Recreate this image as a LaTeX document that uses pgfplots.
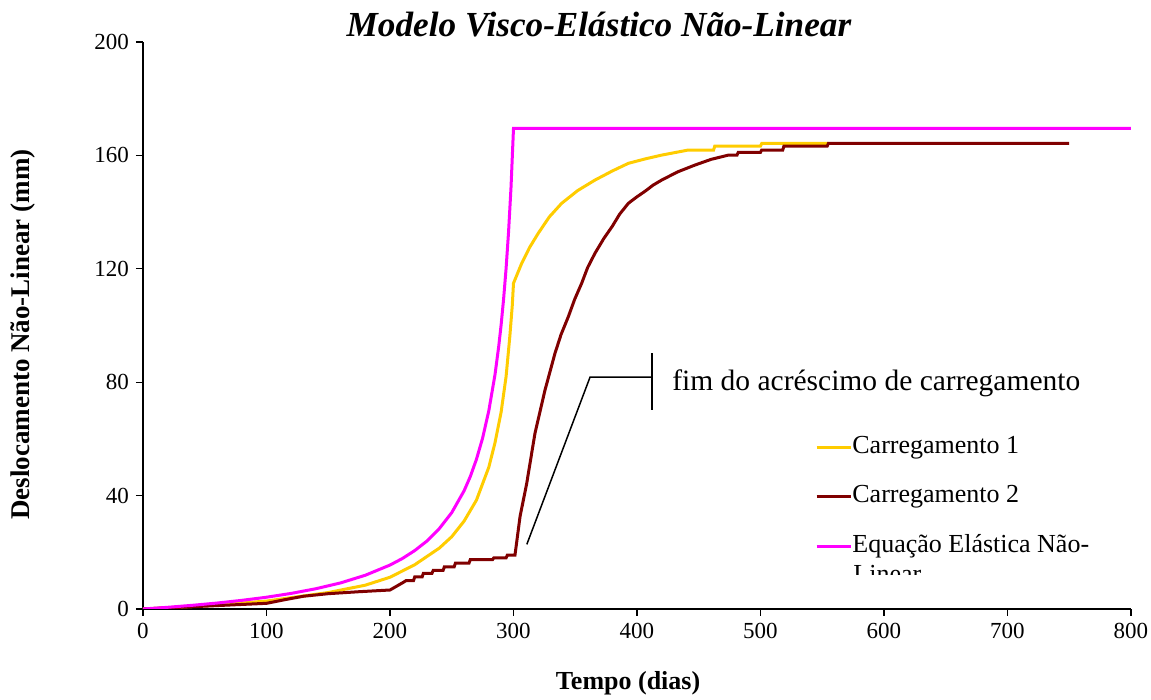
\documentclass[border=0pt]{standalone}
\usepackage{fontspec}
\setmainfont{Liberation Serif}
\usepackage{pgfplots}
\pgfplotsset{compat=1.18}
\definecolor{amarelo}{HTML}{FFCC00}
\definecolor{vinho}{HTML}{800000}
\definecolor{rosa}{HTML}{FF00FF}

\begin{document}
\begin{tikzpicture}
\path[use as bounding box] (-71.5pt,-45.5pt) rectangle (504pt,304.5pt);
\begin{axis}[
  at={(0,0)}, anchor=south west,
  width=494pt, height=283.5pt, scale only axis,
  xmin=0, xmax=800, ymin=0, ymax=200,
  xtick={0,100,...,800}, ytick={0,40,...,200},
  axis lines*=left,
  axis line style={black, line width=0.6pt, -},
  tick align=outside, major tick length=3.5pt,
  tick style={black, line width=0.6pt},
  /pgf/number format/assume math mode=true,
  tick label style={font=\fontsize{11.5}{13}\selectfont},
  every axis title shift=0pt,
  title={\bfseries\itshape Modelo Visco-Elástico Não-Linear},
  title style={at={(axis description cs:0.4615,1.0088)}, anchor=base,
    font=\fontsize{17.6}{20}\selectfont, inner sep=0pt},
  xlabel={\bfseries Tempo (dias)},
  xlabel style={at={(axis description cs:0.491,0)}, anchor=base,
    yshift=-40.5pt, font=\fontsize{13}{15}\selectfont, inner sep=0pt},
  ylabel={\bfseries Deslocamento Não-Linear (mm)},
  ylabel style={at={(axis description cs:-0.1215,0.484)}, anchor=center,
    font=\fontsize{13.5}{15}\selectfont, inner sep=0pt},
  legend cell align=left,
  legend style={draw=none, fill=none, at={(axis description cs:0.680,0.3069)},
    anchor=north west, inner sep=0pt, row sep=12.75pt,
    font=\fontsize{13}{15.6}\selectfont,
    nodes={inner sep=0pt, text height=9pt, text depth=3pt}},
  legend image post style={line width=1.5pt},
]
% Carregamento 1
\addplot[amarelo, line width=1.5pt] coordinates {
(0,0) (50,1.1) (100,2.8) (150,5.8) (180,8.4) (200,11.2) (220,15.6)
(240,21.5) (250,25.5) (260,31.0) (270,38.4) (280,50.0) (285,58.6)
(290,69.5) (294,82.0) (297,96.0) (299,107.0) (300,114.9) (306.6,121.9)
(313,127.5) (320,132.5) (329,138.3) (339,143.1) (352,147.6) (366,151.3)
(380,154.5) (393,157.2) (407,158.8) (420,160.1)
(441.6,161.9) (462,161.9) (463,163.3) (500,163.3) (501,164.2) (555,164.2)
};
% Carregamento 2
\addplot[vinho, line width=1.5pt] coordinates {
(0,0) (100,2.0) (115,3.3) (130,4.5) (150,5.4) (175,6.1) (200,6.7)
(210,9.2) (213,10.0) (219,10.0) (220,11.3) (226,11.3) (227,12.6)
(234,12.6) (235,13.6) (243,13.6) (244,14.9) (252,14.9) (253,16.2)
(264,16.2) (265,17.4) (283,17.4) (284,18.0) (294,18.0) (295,19.0)
(301.2,19.0) (305.3,32.6) (310.7,44.3) (317.4,62.0) (325.5,77.2)
(333.6,90.2) (338.5,96.8) (344.4,103.1) (349.5,109.2) (355.2,114.9)
(360,120.4) (366,125.5) (373,130.6) (380,135.0) (386,139.3)
(393,143.1) (400,145.4) (407,147.5) (413,149.5) (420,151.3)
(433,154.2) (447,156.6) (460,158.6) (474,160.1)
(481,160.1) (482,161.1) (500,161.1) (501,161.9) (518,161.9)
(519,163.3) (554,163.3) (555,164.2) (750,164.2)
};
% Equacao Elastica Nao-Linear
\addplot[rosa, line width=1.5pt] coordinates {
(0,0) (20,0.6) (40,1.3) (60,2.1) (80,3.05) (100,4.15) (120,5.5)
(140,7.15) (160,9.2) (180,11.9) (200,15.5) (210,17.8) (220,20.6)
(230,24.0) (240,28.4) (250,34.0) (260,41.7) (265,46.7) (270,52.8)
(275,60.3) (280,69.9) (285,82.6) (288,92.5) (290,100.3) (292,109.4)
(294,120.1) (296,133.0) (298,148.8) (300,169.5) (800,169.5)
};
\legend{Carregamento 1, Carregamento 2, Equação Elástica Não-}

% anotacao
\draw[black, line width=0.75pt] (axis cs:310.8,22.8) -- (axis cs:362,81.8) -- (axis cs:412,81.8);
\draw[black, line width=0.75pt] (axis cs:412,70.2) -- (axis cs:412,90.2);
\node[anchor=base west, inner sep=0pt, font=\fontsize{14.75}{18}\selectfont]
  at (axis cs:428.3,76.9) {fim do acréscimo de carregamento};

\coordinate (clipA) at (axis cs:570,12.0);
\coordinate (clipB) at (axis cs:720,18.0);
\coordinate (linA) at (axis cs:574.9,9.17);
\end{axis}
\begin{scope}
\clip (clipA) rectangle (clipB);
\node[anchor=base west, inner sep=0pt, font=\fontsize{13}{15.6}\selectfont] at (linA) {Linear};
\end{scope}
\end{tikzpicture}
\end{document}
